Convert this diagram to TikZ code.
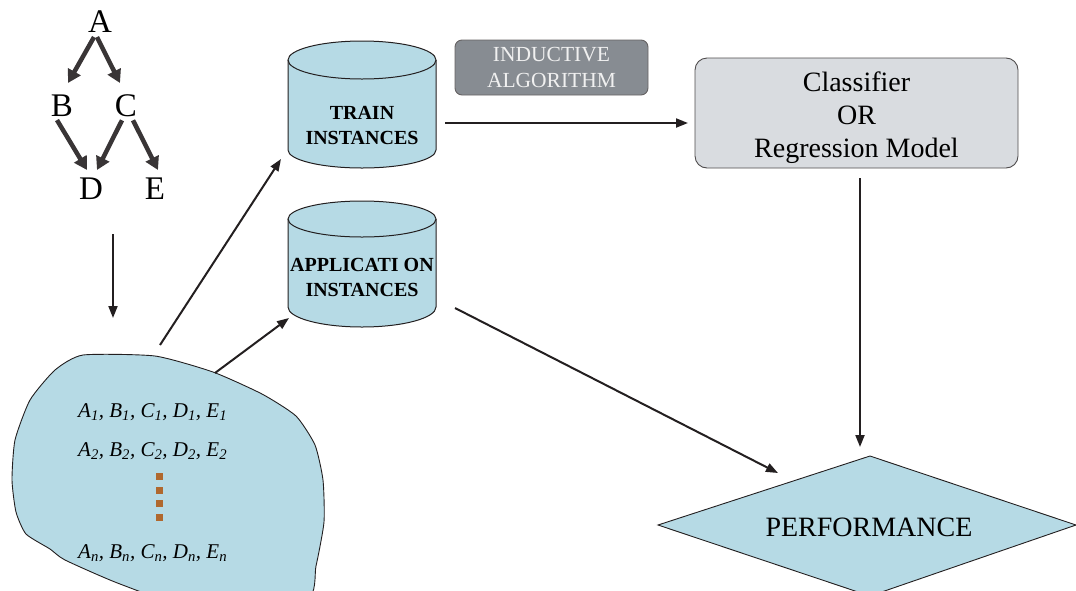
\documentclass[tikz,border=0pt]{standalone}
\usepackage{fontspec}
\setmainfont{Liberation Serif}
\usetikzlibrary{arrows.meta}
\definecolor{paleblue}{HTML}{B6DAE5}
\definecolor{ink}{HTML}{231F20}
\definecolor{algofill}{HTML}{878C92}
\definecolor{modelfill}{HTML}{D9DCE0}
\definecolor{dotbrown}{HTML}{B0682E}
\tikzset{
  flow/.style={draw=ink, line width=2pt, -{Triangle[length=12pt,width=9pt]}},
  treearrow/.style={draw=ink!90, line width=4.5pt, -{Triangle[length=13pt,width=14pt]}},
  treeletter/.style={inner sep=0pt, font=\fontsize{33}{33}\selectfont},
  dbtext/.style={inner sep=0pt, align=center, font=\fontsize{20}{25}\selectfont\bfseries},
  tuple/.style={inner sep=0pt, anchor=base west, font=\fontsize{21}{21}\selectfont\itshape},
  outline/.style={draw=ink, line width=1pt},
}
\newcommand{\sub}[1]{\textsubscript{#1}}
\begin{document}
\begin{tikzpicture}[x=1pt, y=-1pt]
\useasboundingbox (0,0) rectangle (1076,590);
\clip (0,0) rectangle (1076,590);

% ---- small dependency graph ----
\node[treeletter] (A) at (100,22) {A};
\node[treeletter] (B) at (62,106) {B};
\node[treeletter] (C) at (126,106) {C};
\node[treeletter] (D) at (91,189) {D};
\node[treeletter] (E) at (155,189) {E};
\draw[treearrow] (A.south) ++(-6,4) coordinate (a1) -- (68,83) coordinate (b1);
\draw[treearrow] (A.south) ++(-3,4) coordinate (a2) -- (120,83) coordinate (c1);
\draw[treearrow] (B.south) ++(-5,3) coordinate (b2) -- (87,170) coordinate (d1);
\draw[treearrow] (C.south) ++(-4,3) coordinate (c2) -- (97,170) coordinate (d2);
\draw[treearrow] (C.south) ++(7,3) coordinate (c3) -- (158,170) coordinate (e1);

% ---- data blob ----
\draw[outline, line width=0.9pt, fill=paleblue]
  plot[smooth cycle, tension=0.35] coordinates {
    (83,355) (155,356) (213,372) (262,394) (296,416) (315,445) (323,480)
    (324,522) (316,566) (306,600) (200,610) (120,584) (65,560) (50,549)
    (26,534) (16,512) (12,480) (15,440) (30,400) (55,370)};
\node[tuple] (row1) at (78,417) {A\sub{1}, B\sub{1}, C\sub{1}, D\sub{1}, E\sub{1}};
\node[tuple] (row2) at (78,456) {A\sub{2}, B\sub{2}, C\sub{2}, D\sub{2}, E\sub{2}};
\node[tuple] (rown) at (78,558) {A\sub{n}, B\sub{n}, C\sub{n}, D\sub{n}, E\sub{n}};
\foreach \yy in {476,490,503,517}
  \fill[dotbrown] (155.5,\yy-3.5) rectangle (162.5,\yy+3.5);

% ---- database cylinders ----
\fill[paleblue] (288,60) -- (288,150) arc[start angle=180, end angle=0, x radius=74, y radius=18]
  -- (436,60) arc[start angle=0, end angle=-180, x radius=74, y radius=19] -- cycle;
\draw[outline] (288,60) -- (288,150) arc[start angle=180, end angle=0, x radius=74, y radius=18] -- (436,60);
\draw[outline] (362,60) ellipse[x radius=74, y radius=19];
\node[dbtext] (train) at (362,125) {TRAIN\\INSTANCES};

\fill[paleblue] (288,219) -- (288,307) arc[start angle=180, end angle=0, x radius=74, y radius=20]
  -- (436,219) arc[start angle=0, end angle=-180, x radius=74, y radius=18] -- cycle;
\draw[outline] (288,219) -- (288,307) arc[start angle=180, end angle=0, x radius=74, y radius=20] -- (436,219);
\draw[outline] (362,219) ellipse[x radius=74, y radius=18];
\node[dbtext] (apply) at (362,277) {APPLICATI ON\\INSTANCES};

% ---- learner and model ----
\node[draw=ink!70, line width=0.9pt, fill=algofill, rounded corners=7pt,
      minimum width=193pt, minimum height=55pt, inner sep=0pt, align=center,
      text=white!94!black, font=\fontsize{21.5}{26}\selectfont] (algo) at (551.5,67.5)
      {INDUCTIVE\\ALGORITHM};
\node[draw=ink!80, line width=0.9pt, fill=modelfill, rounded corners=12pt,
      minimum width=323pt, minimum height=110pt, inner sep=0pt] (model) at (856.5,113) {};
\node[inner sep=0pt, align=center, font=\fontsize{28}{33}\selectfont] (modeltext)
      at (856.5,118) {Classifier\\OR\\Regression Model};

% ---- performance decision ----
\coordinate (pl) at (658,525);
\coordinate (pt) at (870,456);
\coordinate (pr) at (1076,525);
\coordinate (pb) at (870,596);
\draw[outline, line width=0.9pt, fill=paleblue] (pl) -- (pt) -- (pr) -- (pb) -- cycle;
\node[inner sep=0pt, font=\fontsize{28}{28}\selectfont] (perf) at (869,527) {PERFORMANCE};

% ---- connectors ----
\coordinate (treeout) at (113,234);
\coordinate (blobin) at (113,318);
\draw[flow] (treeout) -- (blobin);

\coordinate (blobup) at (160,345);
\coordinate (trainin) at (281,159);
\draw[flow] (blobup) -- (trainin);

\coordinate (blobright) at (215,373);
\coordinate (applyin) at (289,318);
\draw[flow] (blobright) -- (applyin);

\coordinate (trainout) at (445,123);
\coordinate (modelin) at (688,123);
\draw[flow] (trainout) -- (modelin);

\coordinate (modelout) at (860,178);
\coordinate (perfin) at (860,447);
\draw[flow] (modelout) -- (perfin);

\coordinate (applyout) at (455,308);
\coordinate (perfin2) at (778,473);
\draw[flow] (applyout) -- (perfin2);
\end{tikzpicture}
\end{document}
